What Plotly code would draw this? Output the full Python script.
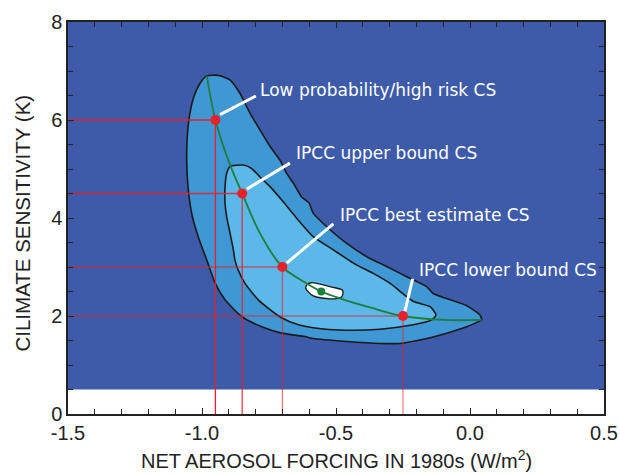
import plotly.graph_objects as go

# ---------------- data ----------------
forcing_points = [-0.95, -0.85, -0.70, -0.25]
sensitivity_points = [6.0, 4.5, 3.0, 2.0]
point_labels = ["Low probability/high risk CS", "IPCC upper bound CS",
                "IPCC best estimate CS", "IPCC lower bound CS"]

best_x = [-0.555]
best_y = [2.5]

curve_x = [-0.982, -0.95, -0.90, -0.85, -0.78, -0.70, -0.62, -0.555, -0.48, -0.37, -0.25, -0.10, 0.044]
curve_y = [6.90, 6.00, 5.15, 4.50, 3.65, 3.00, 2.70, 2.50, 2.35, 2.17, 2.00, 1.92, 1.92]

outer_x = [-0.982, -0.939, -0.896, -0.858, -0.821, -0.784, -0.746, -0.709, -0.684, -0.659, -0.628,
           -0.600, -0.585, -0.522, -0.460, -0.385, -0.311, -0.236, -0.162, -0.137, -0.012, 0.037,
           0.044, 0.037, -0.012, -0.087, -0.187, -0.261, -0.336, -0.460, -0.585, -0.616, -0.703,
           -0.777, -0.852, -0.914, -0.951, -0.982, -1.010, -1.036, -1.051, -1.057, -1.055, -1.045,
           -1.030, -1.007, -0.982]
outer_y = [6.90, 6.91, 6.82, 6.54, 6.14, 5.80, 5.46, 5.18, 4.91, 4.71, 4.43,
           4.30, 4.10, 3.76, 3.48, 3.21, 3.01, 2.80, 2.60, 2.46, 2.21, 2.02,
           1.92, 1.90, 1.78, 1.65, 1.51, 1.44, 1.44, 1.48, 1.54, 1.58, 1.65,
           1.78, 1.99, 2.33, 2.67, 3.14, 3.55, 4.03, 4.57, 5.12, 5.66, 6.14,
           6.48, 6.75, 6.90]

inner_x = [-0.896, -0.846, -0.815, -0.784, -0.746, -0.700, -0.655, -0.585, -0.510, -0.435, -0.361,
           -0.299, -0.212, -0.149, -0.127, -0.143, -0.212, -0.336, -0.460, -0.585, -0.640, -0.705,
           -0.790, -0.840, -0.865, -0.877, -0.883, -0.898, -0.908, -0.914, -0.914, -0.908, -0.896]
inner_y = [5.05, 5.08, 5.01, 4.84, 4.64, 4.35, 4.05, 3.62, 3.35, 3.08, 2.87,
           2.67, 2.30, 2.19, 2.02, 1.92, 1.82, 1.73, 1.71, 1.76, 1.82, 1.97,
           2.33, 2.67, 2.94, 3.14, 3.35, 3.76, 4.03, 4.30, 4.64, 4.91, 5.05]

blob_x = [-0.607, -0.591, -0.516, -0.475, -0.479, -0.522, -0.585, -0.613, -0.607]
blob_y = [2.65, 2.68, 2.59, 2.52, 2.39, 2.35, 2.41, 2.57, 2.65]

x_tick_vals = [-1.5, -1.0, -0.5, 0.0, 0.5]
x_tick_text = ["-1.5", "-1.0", "-0.5", "0.0", "0.5"]
y_tick_vals = [0, 2, 4, 6, 8]

# ---------------- layout helpers (positions / styles) ----------------
label_text_x = [-0.790, -0.657, -0.491, -0.199]
label_text_y = [6.61, 5.33, 4.06, 2.94]
leader_start = [(-0.933, 6.11), (-0.833, 4.59), (-0.684, 3.08), (-0.243, 2.09)]
leader_end = [(-0.799, 6.49), (-0.672, 5.12), (-0.510, 3.88), (-0.214, 2.76)]
red_opacity = [1.0, 0.85, 0.62, 0.55]

BG_BLUE = "#3d5ba9"
OUTER_FILL = "#3f97d3"
INNER_FILL = "#5cb8e8"
RED = "#e8202a"
GREEN = "#1b7f3e"
INK = "#222222"

fig = go.Figure()

# outer and inner probability regions
fig.add_trace(go.Scatter(x=outer_x, y=outer_y, mode="lines", fill="toself",
                         fillcolor=OUTER_FILL, line=dict(color="#1a1a1a", width=1.6, shape="spline", smoothing=0.6),
                         hoverinfo="skip", showlegend=False))
fig.add_trace(go.Scatter(x=inner_x, y=inner_y, mode="lines", fill="toself",
                         fillcolor=INNER_FILL, line=dict(color="#1a1a1a", width=1.6, shape="spline", smoothing=0.6),
                         hoverinfo="skip", showlegend=False))
fig.add_trace(go.Scatter(x=blob_x, y=blob_y, mode="lines", fill="toself",
                         fillcolor="white", line=dict(color="#1a1a1a", width=1.4, shape="spline", smoothing=0.8),
                         hoverinfo="skip", showlegend=False))

# red guide lines
for fx, sy, op in zip(forcing_points, sensitivity_points, red_opacity):
    fig.add_trace(go.Scatter(x=[-1.5, fx], y=[sy, sy], mode="lines", opacity=op,
                             line=dict(color=RED, width=1.3), hoverinfo="skip", showlegend=False))
    fig.add_trace(go.Scatter(x=[fx, fx], y=[0, sy], mode="lines", opacity=op,
                             line=dict(color=RED, width=1.3), hoverinfo="skip", showlegend=False))

# green curve
fig.add_trace(go.Scatter(x=curve_x, y=curve_y, mode="lines",
                         line=dict(color=GREEN, width=1.8, shape="spline", smoothing=1.0),
                         hoverinfo="skip", showlegend=False))

# white leader lines
for (sx, sy), (ex, ey) in zip(leader_start, leader_end):
    fig.add_trace(go.Scatter(x=[sx, ex], y=[sy, ey], mode="lines",
                             line=dict(color="white", width=3), hoverinfo="skip", showlegend=False))

# points
fig.add_trace(go.Scatter(x=forcing_points, y=sensitivity_points, mode="markers",
                         marker=dict(color=RED, size=10, line=dict(width=0)),
                         hoverinfo="skip", showlegend=False))
fig.add_trace(go.Scatter(x=best_x, y=best_y, mode="markers",
                         marker=dict(color=GREEN, size=8, line=dict(width=0)),
                         hoverinfo="skip", showlegend=False))

# text labels
for tx, ty, txt in zip(label_text_x, label_text_y, point_labels):
    fig.add_annotation(x=tx, y=ty, text=txt, showarrow=False, xanchor="left", yanchor="middle",
                       font=dict(family="DejaVu Sans", size=17, color="white"))

# axis titles
fig.add_annotation(xref="paper", yref="paper", x=0.5, y=-0.117,
                   text="NET AEROSOL FORCING IN 1980s (W/m<sup>2</sup>)",
                   showarrow=False, xanchor="center", yanchor="middle",
                   font=dict(family="Liberation Sans", size=20, color=INK))
fig.add_annotation(xref="paper", yref="paper", x=-0.085, y=0.487, text="CILIMATE SENSITIVITY (K)",
                   textangle=-90, showarrow=False, xanchor="center", yanchor="middle",
                   font=dict(family="Liberation Sans", size=20.5, color=INK))

# blue background
fig.add_shape(type="rect", xref="x", yref="y", x0=-1.5, x1=0.5, y0=0.5, y1=8,
              fillcolor=BG_BLUE, line=dict(width=0), layer="below")

axis_common = dict(showgrid=False, zeroline=False, showline=True, linecolor=INK, linewidth=1.5,
                   ticks="inside", ticklen=6, tickwidth=1.2, tickcolor=INK, mirror="allticks",
                   automargin=False,
                   tickfont=dict(family="Liberation Sans", size=20, color=INK))

fig.update_xaxes(range=[-1.5, 0.5], tickvals=x_tick_vals, ticktext=x_tick_text,
                 minor=dict(dtick=0.1, tick0=-1.5, ticks="inside", ticklen=5, tickcolor=INK),
                 **axis_common)
fig.update_yaxes(range=[0, 8], tickvals=y_tick_vals,
                 minor=dict(dtick=0.5, tick0=0, ticks="inside", ticklen=5, tickcolor=INK),
                 **axis_common)

# initial size fits inside the page's default 8px body margin (no scrollbars);
# the post script then drops the body margin and grows the figure to the full 620x474 window
fig.update_layout(width=604, height=458, margin=dict(l=60, r=8, t=14, b=52),
                  plot_bgcolor="white", paper_bgcolor="white")

post = ("document.body.style.margin='0px';"
        "document.body.style.overflow='hidden';"
        "Plotly.relayout('{plot_id}', {width: 620, height: 474, "
        "'margin.l': 68, 'margin.r': 16, 'margin.t': 22, 'margin.b': 60});")

fig.write_html("out.html", config={"displayModeBar": False}, post_script=post)
